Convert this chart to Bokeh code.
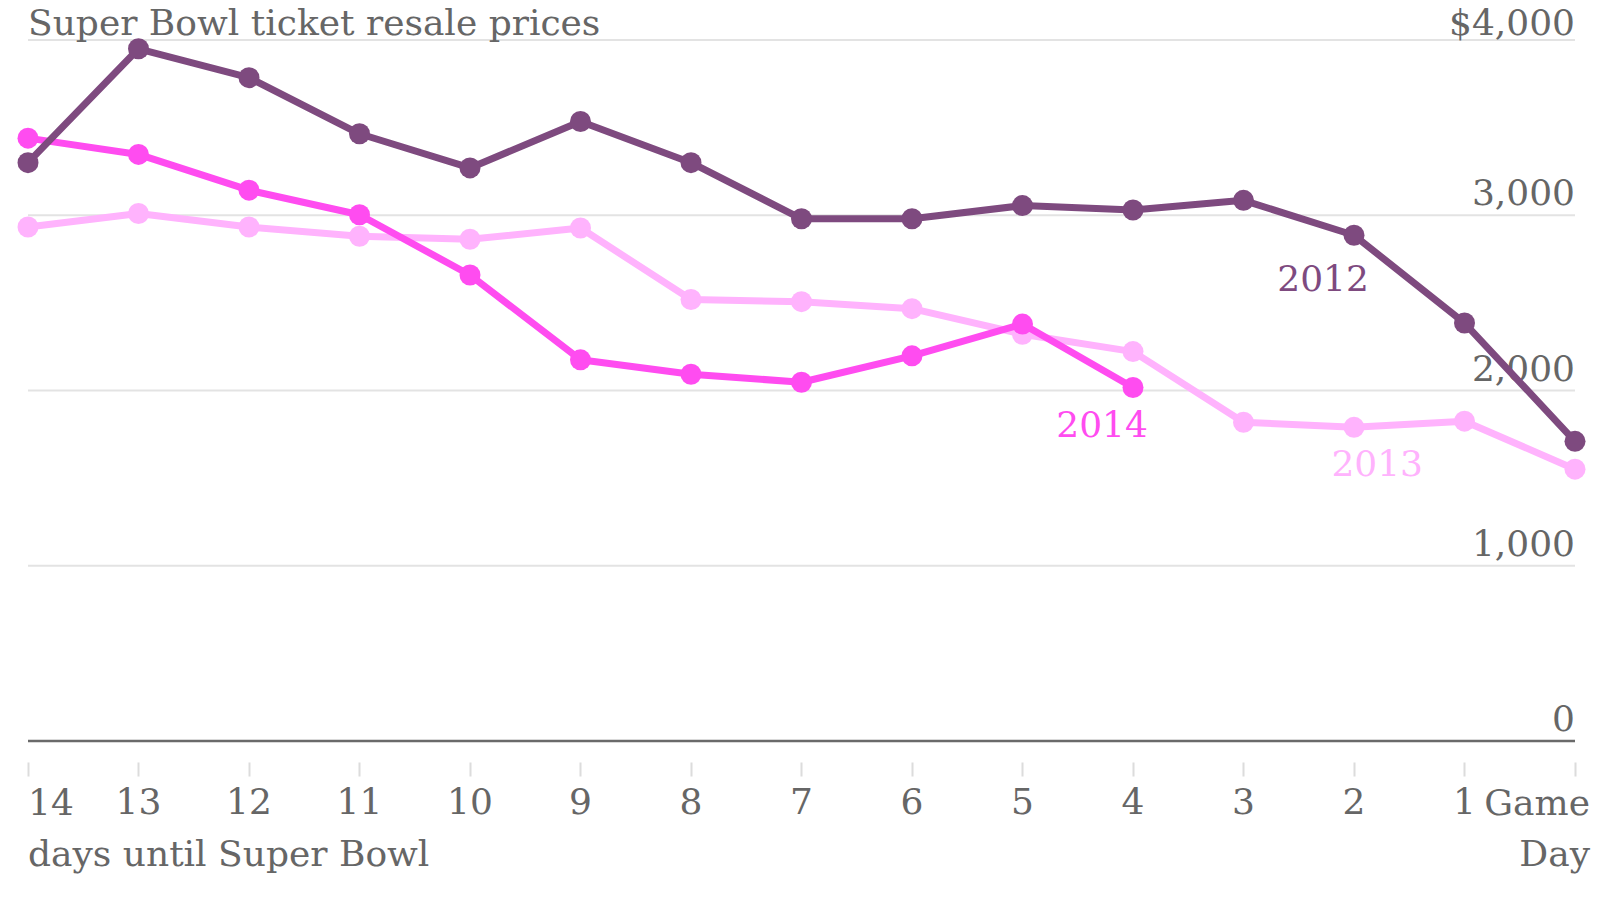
from bokeh.plotting import figure
from bokeh.models import Range1d, FixedTicker
from bokeh.core.properties import value
from bokeh.embed import file_html
from bokeh.resources import INLINE

# ---------------- data ----------------
days = [14, 13, 12, 11, 10, 9, 8, 7, 6, 5, 4, 3, 2, 1, 0]
prices_2012 = [3300, 3950, 3785, 3465, 3270, 3535, 3300, 2980, 2980, 3055, 3030, 3085, 2886, 2385, 1710]
prices_2013 = [2933, 3010, 2933, 2880, 2863, 2927, 2519, 2507, 2467, 2321, 2222, 1819, 1790, 1825, 1551]
days_2014 = [14, 13, 12, 11, 10, 9, 8, 7, 6, 5, 4]
prices_2014 = [3440, 3347, 3143, 3003, 2659, 2175, 2093, 2047, 2198, 2379, 2017]

y_ticks = [0, 1000, 2000, 3000]
y_tick_labels = ["0", "1,000", "2,000", "3,000"]
top_tick = 4000
top_tick_label = "$4,000"
grid_ticks = [1000, 2000, 3000, 4000]
x_tick_labels = {d: str(d) for d in days}
x_tick_labels[14] = ""   # drawn separately (left-aligned)
x_tick_labels[0] = ""    # "Game Day" drawn separately

series_names = ["2012", "2013", "2014"]
label_x = [2.28, 1.79, 4.28]
label_y = [2640, 1589, 1806]

title = "Super Bowl ticket resale prices"
x_title = "days until Super Bowl"
last_label = ["Game", "Day"]

C2012 = "#7e4a7f"
C2013 = "#ffb3fd"
C2014 = "#ff4cf0"
TXT = "#666666"
FONT = "DejaVu Serif"

# ---------------- layout (pixels) ----------------
W, H = 1596, 896
X_LEFT, X_RIGHT = 27.5, 1574.5      # pixel x of first / last day
Y_ZERO, Y_TOP = 740.5, 39.5         # pixel y of 0 and 4000
px_day = (X_RIGHT - X_LEFT) / (days[0] - days[-1])
px_unit = (Y_ZERO - Y_TOP) / 4000.0

x_range = Range1d(days[0] + X_LEFT / px_day, days[-1] - (W - X_RIGHT) / px_day)
y_range = Range1d(-(H - Y_ZERO) / px_unit, 4000 + Y_TOP / px_unit)

p = figure(width=W, height=H, x_range=x_range, y_range=y_range,
           x_axis_location="below", y_axis_location=None,
           output_backend="svg", toolbar_location=None)
p.min_border = 0
p.min_border_left = 0
p.min_border_right = 0
p.min_border_top = 0
p.min_border_bottom = 0
p.outline_line_color = None
p.background_fill_color = "white"
p.border_fill_color = "white"
p.grid.visible = False

ax = p.xaxis[0]
ax.fixed_location = -21.5 / px_unit      # ticks start 21.5px under the zero line
ax.ticker = FixedTicker(ticks=days)
ax.major_label_overrides = x_tick_labels
ax.axis_line_color = None
ax.major_tick_in = 0
ax.major_tick_out = 14
ax.major_tick_line_color = "#dcdcdc"
ax.major_tick_line_width = 2
ax.minor_tick_line_color = None
ax.major_label_text_font = FONT
ax.major_label_text_font_size = "36px"
ax.major_label_text_color = TXT
ax.major_label_standoff = 11

# gridlines and zero baseline
n = len(grid_ticks)
p.segment(x0=[days[0]] * n, x1=[days[-1]] * n, y0=grid_ticks, y1=grid_ticks,
          line_color="#e3e3e3", line_width=2)
p.segment(x0=[days[0]], x1=[days[-1]], y0=[0], y1=[0], line_color="#6a6a6a", line_width=2.5)

# y tick labels (right aligned above gridlines)
p.text(x=[days[-1]] * len(y_ticks), y=y_ticks, text=y_tick_labels,
       text_align="right", text_baseline="middle", y_offset=-23,
       text_font=value(FONT), text_font_size="36px", text_color=TXT)
p.text(x=[days[-1]], y=[top_tick], text=[top_tick_label],
       text_align="right", text_baseline="middle", y_offset=-18,
       text_font=value(FONT), text_font_size="36px", text_color=TXT)

# title
p.text(x=[days[0]], y=[top_tick], text=[title], text_align="left", text_baseline="middle",
       y_offset=-18, text_font=value(FONT), text_font_size="36px", text_color=TXT)

# bottom labels
p.text(x=[days[0]], y=[0], text=[str(days[0])], text_align="left", text_baseline="middle",
       y_offset=61, text_font=value(FONT), text_font_size="36px", text_color=TXT)
p.text(x=[days[0]], y=[0], text=[x_title], text_align="left", text_baseline="middle",
       y_offset=112, text_font=value(FONT), text_font_size="36px", text_color=TXT)
p.text(x=[days[-1]] * 2, y=[0, 0], text=last_label, text_align="right", text_baseline="middle",
       x_offset=15, y_offset=[61, 112], text_font=value(FONT), text_font_size="36px",
       text_color=TXT)

# series labels
p.text(x=label_x, y=label_y, text=series_names, text_align="center", text_baseline="middle",
       text_font=value(FONT), text_font_size="36px", text_color=[C2012, C2013, C2014])

# lines
p.line(days, prices_2013, line_color=C2013, line_width=7)
p.scatter(days, prices_2013, size=21, fill_color=C2013, line_color=None)
p.line(days_2014, prices_2014, line_color=C2014, line_width=7)
p.scatter(days_2014, prices_2014, size=21, fill_color=C2014, line_color=None)
p.line(days, prices_2012, line_color=C2012, line_width=7)
p.scatter(days, prices_2012, size=21, fill_color=C2012, line_color=None)

open("out.html", "w").write(file_html(p, INLINE))
